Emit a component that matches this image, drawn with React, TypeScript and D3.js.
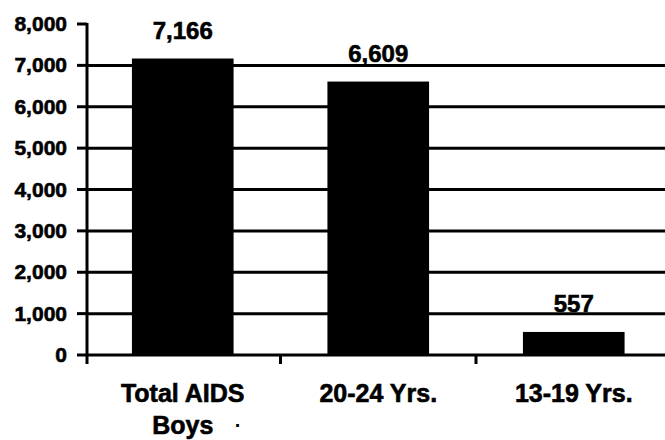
import React, { useRef, useEffect } from 'react';
import * as d3 from 'd3';

// data
const categories = ['Total AIDS|Boys', '20-24 Yrs.', '13-19 Yrs.'];
const cases = [7166, 6609, 557];
const yTicks = [0, 1000, 2000, 3000, 4000, 5000, 6000, 7000, 8000];

const App = () => {
  const svgRef = useRef<SVGSVGElement>(null);

  useEffect(() => {
    const width = 665;
    const height = 440;
    const axisX = 87;   // y axis position
    const font = "'Liberation Sans', Arial, sans-serif";

    const svg = d3.select(svgRef.current).attr('width', width).attr('height', height);
    svg.selectAll('*').remove();

    const y = d3.scaleLinear().domain([0, 8000]).range([355, 24]);
    const x = d3.scaleBand().domain(categories).range([85, 671.5])
      .paddingInner(0.48).paddingOuter(0.24);

    // gridlines
    svg.append('g').selectAll('line')
      .data(yTicks.filter(d => d > 0 && d < 8000))
      .enter().append('line')
      .attr('x1', axisX).attr('x2', width)
      .attr('y1', d => y(d)).attr('y2', d => y(d))
      .attr('stroke', '#000').attr('stroke-width', 3);

    // bars
    svg.append('g').selectAll('rect')
      .data(cases)
      .enter().append('rect')
      .attr('x', (d, i) => x(categories[i])!)
      .attr('y', d => y(d))
      .attr('width', x.bandwidth())
      .attr('height', d => y(0) - y(d))
      .attr('fill', '#000');

    // x axis line + category ticks
    svg.append('line')
      .attr('x1', axisX).attr('x2', width)
      .attr('y1', y(0)).attr('y2', y(0))
      .attr('stroke', '#000').attr('stroke-width', 3);
    svg.append('g').selectAll('line')
      .data(categories.slice(1))
      .enter().append('line')
      .attr('x1', d => x(d)! - (x.step() - x.bandwidth()) / 2)
      .attr('x2', d => x(d)! - (x.step() - x.bandwidth()) / 2)
      .attr('y1', y(0)).attr('y2', y(0) + 9)
      .attr('stroke', '#000').attr('stroke-width', 3);

    // y axis
    svg.append('line')
      .attr('x1', axisX).attr('x2', axisX)
      .attr('y1', y(8000) - 1).attr('y2', y(0) + 9)
      .attr('stroke', '#000').attr('stroke-width', 3);
    const yt = svg.append('g').selectAll('g')
      .data(yTicks).enter().append('g');
    yt.append('line')
      .attr('x1', axisX - 10).attr('x2', axisX)
      .attr('y1', d => y(d)).attr('y2', d => y(d))
      .attr('stroke', '#000').attr('stroke-width', 3);
    yt.append('text')
      .attr('x', axisX - 20)
      .attr('y', d => y(d) + 7)
      .attr('text-anchor', 'end')
      .style('font-family', font)
      .style('font-size', '21px')
      .style('font-weight', '700')
      .style('stroke', '#000').style('stroke-width', 0.6)
      .text(d => d3.format(',')(d));

    // value labels
    svg.append('g').selectAll('text')
      .data(cases)
      .enter().append('text')
      .attr('x', (d, i) => x(categories[i])! + x.bandwidth() / 2)
      .attr('y', d => y(d) - 20)
      .attr('text-anchor', 'middle')
      .style('font-family', font)
      .style('font-size', '24px')
      .style('font-weight', '700')
      .style('stroke', '#000').style('stroke-width', 0.6)
      .text(d => d3.format(',')(d));

    // category labels (two lines for the first one)
    const cl = svg.append('g').selectAll('text')
      .data(categories)
      .enter().append('text')
      .attr('text-anchor', 'middle')
      .style('font-family', font)
      .style('font-size', '25px')
      .style('font-weight', '700')
      .style('stroke', '#000').style('stroke-width', 0.6);
    cl.selectAll('tspan')
      .data(d => d.split('|').map(s => ({ s, c: d })))
      .enter().append('tspan')
      .attr('x', d => x(d.c)! + x.bandwidth() / 2)
      .attr('y', (d, i) => 402 + i * 32)
      .text(d => d.s);

    // stray speck next to "Boys" in the scan
    svg.append('text')
      .attr('x', x(categories[0])! + x.bandwidth() / 2 + 52)
      .attr('y', 432)
      .style('font-family', font)
      .style('font-size', '20px')
      .style('font-weight', '700')
      .text('·');
  }, []);

  return (
    <svg ref={svgRef} style={{ position: 'absolute', left: 0, top: 0, background: '#fff' }}></svg>
  );
};

export default App;
